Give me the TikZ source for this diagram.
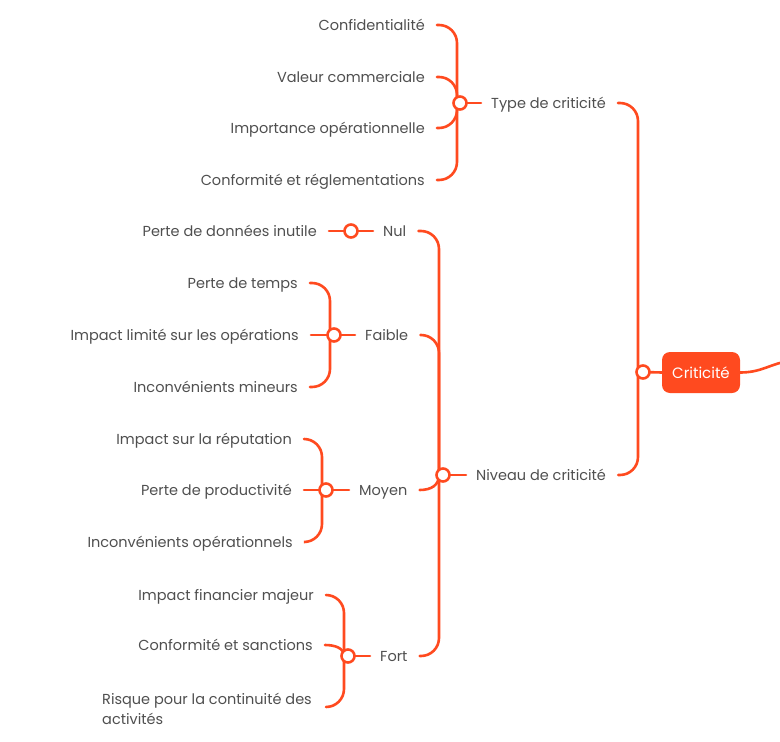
\documentclass[tikz,border=0pt]{standalone}
\usepackage{fontspec}
\setmainfont{Poppins}
\usetikzlibrary{calc}
\definecolor{mm}{HTML}{FF4A1F}
\definecolor{txt}{HTML}{4F4F4F}
\newcommand{\brn}[3]{\draw[br] ([xshift=-#3]#1) -- ([xshift=-#3]#1 |- #2) -- (#2);}
\begin{document}
\begin{tikzpicture}[x=1pt,y=-1pt,
 conn/.style={draw=mm,line width=2.6pt,line cap=round},
 br/.style={conn,rounded corners=18pt},
 jn/.style={circle,draw=mm,fill=white,line width=2.6pt,minimum size=13pt,inner sep=0pt},
 lbl/.style={font=\fontsize{14.5}{17}\selectfont,text=txt,inner sep=0pt,text height=12pt,text depth=2pt},
 rootbox/.style={fill=mm,rounded corners=8pt,minimum width=78pt,minimum height=41pt,text=white,font=\fontsize{15}{18}\selectfont,inner sep=0pt}
]
\useasboundingbox (0,0) rectangle (780,742);
% leaves
\node[lbl,anchor=east] (c1) at (425,25) {Confidentialité};
\node[lbl,anchor=east] (c2) at (425,77) {Valeur commerciale};
\node[lbl,anchor=east] (c3) at (425,128) {Importance opérationnelle};
\node[lbl,anchor=east] (c4) at (425,180) {Conformité et réglementations};
\node[lbl,anchor=east] (n1) at (317,231) {Perte de données inutile};
\node[lbl,anchor=east] (f1) at (298,283) {Perte de temps};
\node[lbl,anchor=east] (f2) at (299,335) {Impact limité sur les opérations};
\node[lbl,anchor=east] (f3) at (298,387) {Inconvénients mineurs};
\node[lbl,anchor=east] (m1) at (292,439) {Impact sur la réputation};
\node[lbl,anchor=east] (m2) at (292,490) {Perte de productivité};
\node[lbl,anchor=east] (m3) at (293,542) {Inconvénients opérationnels};
\node[lbl,anchor=east] (o1) at (314,595) {Impact financier majeur};
\node[lbl,anchor=east] (o2) at (313,645) {Conformité et sanctions};
\node[font=\fontsize{14.5}{20}\selectfont,text=txt,inner sep=0pt,align=left,anchor=west] (o3) at (102,709) {Risque pour la continuité des\\activités};
% parents
\node[lbl,anchor=west] (type) at (491,103) {Type de criticité};
\node[lbl,anchor=west] (niv) at (476,475) {Niveau de criticité};
\node[lbl,anchor=west] (nul) at (383,231) {Nul};
\node[lbl,anchor=west] (faible) at (365,335) {Faible};
\node[lbl,anchor=west] (moyen) at (359,490) {Moyen};
\node[lbl,anchor=west] (fort) at (380,656) {Fort};
\node[rootbox] (root) at (701,372.5) {Criticité};
% junctions
\coordinate (rj) at (643,372);
\coordinate (jt) at (460,103);
\coordinate (jn) at (443,475);
\coordinate (jnul) at (351,231);
\coordinate (jf) at (334,335);
\coordinate (jm) at (326,490);
\coordinate (jo) at (348,656);
% end points
\foreach \n in {c1,c2,c3,c4,n1,f1,f2,f3,m1,m2,m3,o1,o2,type,niv,nul,faible,moyen,fort}
  \coordinate (e\n) at ([xshift=12]\n.east);
\coordinate (eo3) at (326,707);
\coordinate (out) at (784,362);
% root
\draw[conn] (rj) -- (root.west);
\draw[conn] (root.east) .. controls +(20,0) and +(-15,3) .. (out);
\brn{rj}{etype}{5}
\brn{rj}{eniv}{5}
% type
\draw[conn] (jt) -- ([xshift=-10]type.west);
\brn{jt}{ec1}{3}
\brn{jt}{ec2}{3}
\brn{jt}{ec3}{3}
\brn{jt}{ec4}{3}
% niveau
\draw[conn] (jn) -- ([xshift=-10]niv.west);
\brn{jn}{enul}{4}
\brn{jn}{efaible}{4}
\draw[conn] ([xshift=-4]jn) .. controls +(0,10) and +(12,0) .. (emoyen);
\brn{jn}{efort}{4}
% nul
\draw[conn] (jnul) -- ([xshift=-10]nul.west);
\draw[conn] (jnul) -- (en1);
% faible
\draw[conn] (jf) -- ([xshift=-10]faible.west);
\brn{jf}{ef1}{4}
\draw[conn] (jf) -- (ef2);
\brn{jf}{ef3}{4}
% moyen
\draw[conn] (jm) -- ([xshift=-10]moyen.west);
\brn{jm}{em1}{4}
\draw[conn] (jm) -- (em2);
\brn{jm}{em3}{4}
% fort
\draw[conn] (jo) -- ([xshift=-10]fort.west);
\brn{jo}{eo1}{4}
\draw[conn] ([xshift=-4]jo) .. controls +(0,-8) and +(10,0) .. (eo2);
\brn{jo}{eo3}{4}
% junction circles
\foreach \j in {rj,jt,jn,jnul,jf,jm,jo}
  \node[jn] at (\j) {};
\end{tikzpicture}
\end{document}
